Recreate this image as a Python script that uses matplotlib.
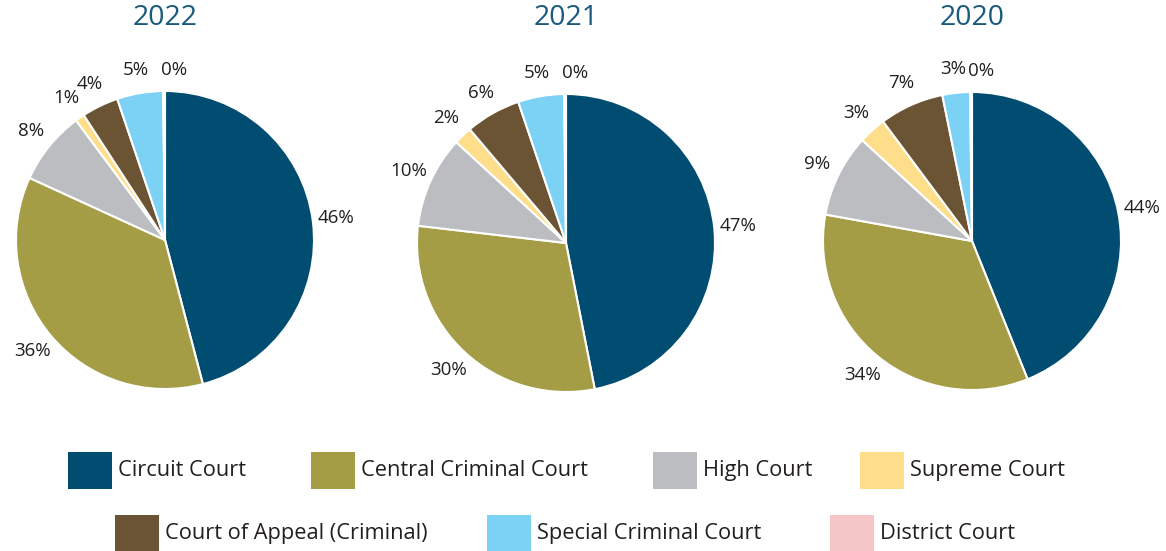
import matplotlib.pyplot as plt
from matplotlib.patches import Rectangle

plt.rcParams['font.family'] = ['Open Sans', 'DejaVu Sans']

courts = ["Circuit Court", "Central Criminal Court", "High Court", "Supreme Court",
          "Court of Appeal (Criminal)", "Special Criminal Court", "District Court"]
colors = ["#004d71", "#a59d45", "#bcbdc0", "#fedd8b", "#6b5433", "#7bd2f5", "#f4c6c5"]

years = ["2022", "2021", "2020"]
share_2022 = [46, 36, 8, 1, 4, 5, 0.2]
share_2021 = [47, 30, 10, 2, 6, 5, 0.2]
share_2020 = [44, 34, 9, 3, 7, 3, 0.2]
shares = [share_2022, share_2021, share_2020]

text_color = "#231f20"
title_color = "#1a5a7e"

fig = plt.figure(figsize=(11.66, 5.51), dpi=100)
W, H = 1166, 551

# pie centres and radius in pixels
centers = [(165, 240), (566, 243), (972, 241)]
radius = 149

for yr, vals, (cx, cy) in zip(years, shares, centers):
    ax = fig.add_axes([(cx - radius) / W, (H - cy - radius) / H, 2 * radius / W, 2 * radius / H])
    wedges, _, autotexts = ax.pie(vals, colors=colors, startangle=90, counterclock=False,
                                  autopct=lambda p: f"{p:.0f}%", pctdistance=1.16,
                                  wedgeprops=dict(edgecolor="white", linewidth=1.5))
    for t in autotexts:
        t.set_fontsize(13.5)
        t.set_color(text_color)
    # the tiny last slice: label starts at the slice instead of centring on it
    autotexts[-1].set_ha("left")
    x0, y0 = autotexts[-1].get_position()
    autotexts[-1].set_position((x0 - 0.02, y0 - 0.02))
    ax.set_xlim(-1, 1)
    ax.set_ylim(-1, 1)
    ax.set_aspect("auto")
    fig.text(cx / W, 1 - 18 / H, yr, ha="center", va="center", fontsize=20.5, color=title_color)

# legend drawn on an overlay axes in pixel units
lax = fig.add_axes([0, 0, 1, 1])
lax.set_xlim(0, W)
lax.set_ylim(H, 0)
lax.axis("off")
leg_x = [68, 311, 653, 860, 115, 487, 830]
leg_top = [452, 452, 452, 452, 515, 515, 515]
for name, col, x, y in zip(courts, colors, leg_x, leg_top):
    lax.add_patch(Rectangle((x, y), 44, 37, facecolor=col, edgecolor="none"))
    lax.text(x + 50, y + 18.5, name, ha="left", va="center", fontsize=15.7, color=text_color)

fig.savefig("out.png", dpi=100)
